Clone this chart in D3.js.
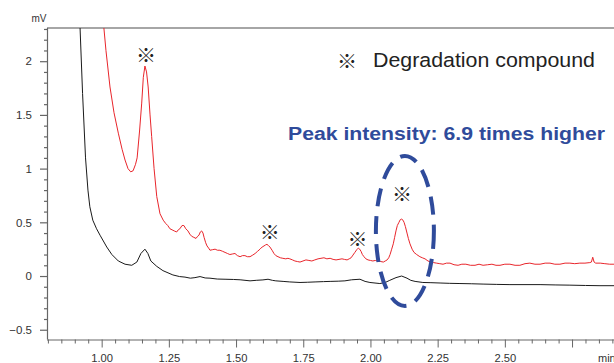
<!DOCTYPE html>
<html>
<head>
<meta charset="utf-8">
<script src="https://cdn.jsdelivr.net/npm/d3@7"></script>
<style>
  body { margin: 0; background: #fff; }
  svg { display: block; font-family: "Liberation Sans", Arial, sans-serif; }
</style>
</head>
<body>
<svg id="chart" width="614" height="363"></svg>
<script>
// chromatogram values [min, mV]
const blackSeries = [
  [0.912, 2.8], [0.919, 2.35], [0.929, 1.70], [0.940, 1.10], [0.949, 0.80], [0.956, 0.645],
  [0.967, 0.52], [0.981, 0.44], [0.994, 0.38], [1.019, 0.27], [1.038, 0.20], [1.062, 0.14],
  [1.087, 0.11], [1.112, 0.10], [1.131, 0.13], [1.146, 0.21], [1.161, 0.25], [1.172, 0.21],
  [1.183, 0.14], [1.205, 0.09], [1.228, 0.05], [1.265, 0.01], [1.290, -0.005], [1.310, -0.01],
  [1.330, -0.02], [1.347, -0.015], [1.366, -0.005], [1.385, -0.018], [1.403, -0.02],
  [1.430, -0.028], [1.459, -0.03], [1.490, -0.032], [1.515, -0.035], [1.552, -0.045],
  [1.575, -0.04], [1.600, -0.036], [1.619, -0.03], [1.635, -0.04], [1.648, -0.045],
  [1.675, -0.05], [1.700, -0.055], [1.738, -0.06], [1.765, -0.058], [1.794, -0.055],
  [1.825, -0.052], [1.850, -0.05], [1.880, -0.048], [1.905, -0.045], [1.930, -0.035],
  [1.961, -0.03], [1.980, -0.05], [1.998, -0.06], [2.035, -0.07], [2.055, -0.06],
  [2.072, -0.04], [2.095, -0.015], [2.116, 0.00], [2.136, -0.02], [2.150, -0.04],
  [2.166, -0.05], [2.195, -0.06], [2.225, -0.062], [2.259, -0.065], [2.295, -0.068],
  [2.333, -0.07], [2.375, -0.072], [2.419, -0.075], [2.470, -0.078], [2.519, -0.08],
  [2.575, -0.08], [2.631, -0.08], [2.690, -0.083], [2.742, -0.085], [2.800, -0.088],
  [2.854, -0.09], [2.928, -0.09]
];

const redSeries = [
  [0.998, 2.8], [1.005, 2.40], [1.016, 2.10], [1.031, 1.76], [1.046, 1.52], [1.062, 1.33],
  [1.076, 1.18], [1.087, 1.08], [1.098, 1.00], [1.108, 0.97], [1.117, 0.98], [1.126, 1.04],
  [1.132, 1.10], [1.141, 1.35], [1.149, 1.61], [1.155, 1.85], [1.161, 1.955], [1.167, 1.90],
  [1.173, 1.76], [1.180, 1.50], [1.186, 1.30], [1.195, 1.00], [1.205, 0.74], [1.217, 0.58],
  [1.229, 0.52], [1.238, 0.49], [1.246, 0.47], [1.254, 0.44], [1.262, 0.43], [1.270, 0.42],
  [1.279, 0.41], [1.285, 0.43], [1.291, 0.44], [1.299, 0.47], [1.306, 0.47], [1.313, 0.44],
  [1.321, 0.42], [1.328, 0.39], [1.335, 0.37], [1.343, 0.36], [1.351, 0.35], [1.357, 0.37],
  [1.362, 0.38], [1.367, 0.41], [1.372, 0.42], [1.377, 0.40], [1.381, 0.36], [1.387, 0.31],
  [1.392, 0.28], [1.398, 0.26], [1.403, 0.24], [1.412, 0.245], [1.422, 0.25], [1.431, 0.24],
  [1.440, 0.24], [1.450, 0.23], [1.459, 0.22], [1.468, 0.21], [1.477, 0.20], [1.486, 0.205],
  [1.496, 0.21], [1.505, 0.19], [1.515, 0.18], [1.524, 0.19], [1.533, 0.19], [1.542, 0.18],
  [1.552, 0.18], [1.562, 0.195], [1.571, 0.21], [1.580, 0.23], [1.589, 0.25], [1.597, 0.27],
  [1.604, 0.28], [1.610, 0.29], [1.615, 0.295], [1.620, 0.285], [1.626, 0.27], [1.634, 0.24],
  [1.641, 0.21], [1.648, 0.19], [1.656, 0.18], [1.665, 0.17], [1.674, 0.165], [1.685, 0.16],
  [1.693, 0.165], [1.700, 0.16], [1.710, 0.15], [1.719, 0.14], [1.728, 0.135], [1.738, 0.13],
  [1.749, 0.14], [1.760, 0.15], [1.771, 0.145], [1.782, 0.14], [1.793, 0.15], [1.805, 0.16],
  [1.816, 0.165], [1.827, 0.17], [1.838, 0.16], [1.850, 0.165], [1.861, 0.155], [1.872, 0.15],
  [1.883, 0.155], [1.894, 0.16], [1.903, 0.155], [1.913, 0.15], [1.921, 0.16], [1.928, 0.17],
  [1.935, 0.195], [1.942, 0.22], [1.949, 0.245], [1.955, 0.26], [1.960, 0.25], [1.965, 0.23],
  [1.970, 0.2], [1.976, 0.18], [1.983, 0.16], [1.991, 0.15], [2.000, 0.145], [2.009, 0.14],
  [2.018, 0.145], [2.028, 0.14], [2.038, 0.135], [2.048, 0.13], [2.055, 0.14], [2.062, 0.15],
  [2.068, 0.17], [2.073, 0.20], [2.079, 0.25], [2.085, 0.30], [2.090, 0.36], [2.095, 0.42],
  [2.100, 0.47], [2.106, 0.50], [2.111, 0.525], [2.116, 0.53], [2.121, 0.52], [2.125, 0.50],
  [2.130, 0.46], [2.136, 0.40], [2.141, 0.35], [2.147, 0.30], [2.155, 0.25], [2.162, 0.22],
  [2.172, 0.20], [2.184, 0.18], [2.193, 0.17], [2.203, 0.16], [2.214, 0.14], [2.225, 0.13],
  [2.235, 0.125], [2.246, 0.12], [2.258, 0.115], [2.270, 0.11], [2.283, 0.12], [2.296, 0.12],
  [2.311, 0.105], [2.326, 0.10], [2.340, 0.11], [2.355, 0.11], [2.372, 0.10], [2.389, 0.10],
  [2.404, 0.11], [2.419, 0.10], [2.436, 0.105], [2.452, 0.11], [2.467, 0.10], [2.482, 0.10],
  [2.500, 0.11], [2.519, 0.11], [2.538, 0.10], [2.556, 0.10], [2.575, 0.115], [2.593, 0.12],
  [2.612, 0.11], [2.631, 0.11], [2.650, 0.12], [2.668, 0.12], [2.686, 0.11], [2.705, 0.11],
  [2.724, 0.12], [2.742, 0.12], [2.760, 0.115], [2.779, 0.12], [2.798, 0.12], [2.816, 0.125],
  [2.822, 0.13], [2.827, 0.175], [2.832, 0.13], [2.838, 0.12], [2.855, 0.12], [2.872, 0.115],
  [2.890, 0.11], [2.906, 0.11], [2.947, 0.11]
];

const xTicks = [1.00, 1.25, 1.50, 1.75, 2.00, 2.25, 2.50, 2.75];
const yTicks = [-0.5, 0, 0.5, 1, 1.5, 2];

// degradation compound markers [min, mV]
const markers = [[1.165, 2.06], [1.625, 0.41], [1.952, 0.35], [2.117, 0.77]];

const svg = d3.select("#chart");
const axisColor = "#666";

const xScale = d3.scaleLinear().domain([0.8, 2.95]).range([47.9, 625.8]);
const yScale = d3.scaleLinear().domain([-0.59, 2.31]).range([339.4, 27.9]);

const x0 = 47, x1 = 614, yTop = 28, yBot = 339.5;

svg.append("defs").append("clipPath").attr("id", "plot")
  .append("rect").attr("x", x0).attr("y", yTop).attr("width", x1 - x0).attr("height", yBot - yTop);

// top frame line
svg.append("line")
  .attr("x1", x0).attr("x2", x1).attr("y1", yTop).attr("y2", yTop)
  .attr("stroke", "#888").attr("stroke-width", 1.5);

// x axis: minor then major ticks
const xMinor = d3.range(0.8, 2.96, 0.05).filter(v => Math.abs(v * 4 - Math.round(v * 4)) > 1e-6);
const xAxisG = svg.append("g").attr("transform", `translate(0,${yBot})`);
xAxisG.append("g").call(d3.axisBottom(xScale).tickValues(xMinor).tickSize(4).tickFormat(""))
  .call(g => g.select(".domain").remove());
xAxisG.append("g").call(d3.axisBottom(xScale).tickValues(xTicks).tickSize(8).tickSizeOuter(0)
    .tickFormat(d => d === 2.75 ? "" : d3.format(".2f")(d)))
  .call(g => g.select(".domain").attr("d", `M${x0},0.5H${x1}`));
xAxisG.selectAll("line, path").attr("stroke", axisColor);
xAxisG.selectAll("text").attr("fill", "#333").attr("font-size", 11.2).attr("y", 22.5).attr("dy", 0);

svg.append("text").attr("x", 598).attr("y", 362)
  .attr("font-size", 11).attr("fill", "#333").text("min");

// y axis
const yMinor = d3.range(-0.5, 2.31, 0.1).filter(v => Math.abs(v * 2 - Math.round(v * 2)) > 1e-6);
const yAxisG = svg.append("g").attr("transform", `translate(${x0},0)`);
yAxisG.append("g").call(d3.axisLeft(yScale).tickValues(yMinor).tickSize(3).tickFormat(""))
  .call(g => g.select(".domain").remove());
yAxisG.append("g").call(d3.axisLeft(yScale).tickValues(yTicks).tickSize(7).tickPadding(8).tickSizeOuter(0)
    .tickFormat(d => d < 0 ? "\u22120.5" : d3.format("")(d)))
  .call(g => g.select(".domain").attr("d", `M0.5,${yTop}V${yBot}`));
yAxisG.selectAll("line, path").attr("stroke", axisColor).attr("stroke-width", 1.2);
yAxisG.selectAll("text").attr("fill", "#333").attr("font-size", 11.5);

svg.append("text").attr("x", 39).attr("y", 21.5).attr("text-anchor", "middle")
  .attr("font-size", 10).attr("fill", "#333").text("mV");

// traces
const line = d3.line().x(d => xScale(d[0])).y(d => yScale(d[1]));
const plot = svg.append("g").attr("clip-path", "url(#plot)");
plot.append("path").datum(blackSeries).attr("d", line)
  .attr("fill", "none").attr("stroke", "#1a1a1a").attr("stroke-width", 1);
plot.append("path").datum(redSeries).attr("d", line)
  .attr("fill", "none").attr("stroke", "#e8252b").attr("stroke-width", 1);

// markers
svg.selectAll(".mark").data(markers).join("text")
  .attr("class", "mark")
  .attr("x", d => xScale(d[0])).attr("y", d => yScale(d[1]))
  .attr("text-anchor", "middle").attr("dominant-baseline", "central")
  .attr("font-family", "'Noto Sans CJK JP', sans-serif").attr("font-size", 20)
  .attr("fill", "#222").text("\u203B");

// legend note
svg.append("text").attr("x", 347).attr("y", 60)
  .attr("text-anchor", "middle").attr("dominant-baseline", "central")
  .attr("font-family", "'Noto Sans CJK JP', sans-serif").attr("font-size", 20)
  .attr("fill", "#222").text("\u203B");
svg.append("text").attr("x", 373).attr("y", 66.7)
  .attr("font-size", 20.5).attr("fill", "#222")
  .attr("textLength", 222).attr("lengthAdjust", "spacingAndGlyphs")
  .text("Degradation compound");

svg.append("text").attr("x", 288).attr("y", 139.7)
  .attr("font-size", 18.8).attr("font-weight", "bold").attr("fill", "#2f4b9b")
  .attr("textLength", 317).attr("lengthAdjust", "spacingAndGlyphs")
  .text("Peak intensity: 6.9 times higher");

// dashed ellipse round the 2.1 min peak
svg.append("ellipse")
  .attr("cx", xScale(2.117) + 3).attr("cy", yScale(0.42))
  .attr("rx", 29).attr("ry", 75)
  .attr("fill", "none").attr("stroke", "#2f4b9b").attr("stroke-width", 4)
  .attr("stroke-dasharray", "18 10");
</script>
</body>
</html>
